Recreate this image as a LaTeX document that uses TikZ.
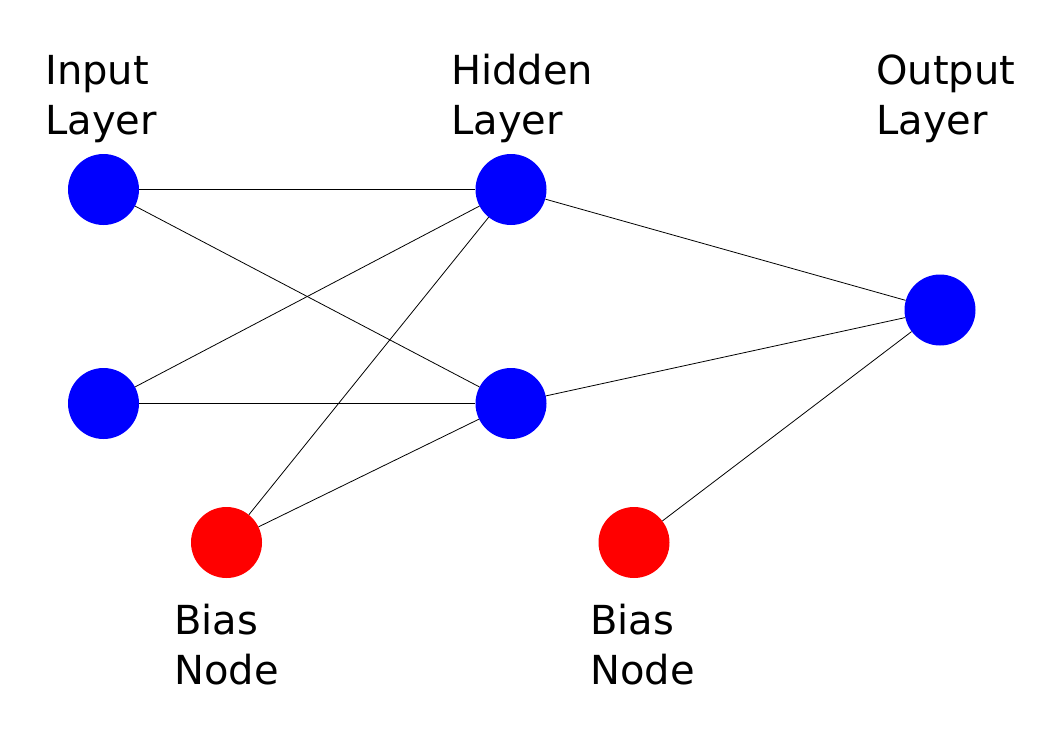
\documentclass[tikz,border=0pt]{standalone}
\usepackage{fontspec}
\setmainfont{DejaVu Sans}
\begin{document}
\begin{tikzpicture}[x=1pt,y=-1pt,
  neuron/.style={circle,fill=blue,minimum size=71pt,inner sep=0pt},
  bias/.style={circle,fill=red,minimum size=71pt,inner sep=0pt},
  lab/.style={anchor=base west,align=left,inner sep=0pt,font=\fontsize{40}{50}\selectfont},
  conn/.style={draw=black,line width=0.8pt}]
\useasboundingbox (0,0) rectangle (1053,745);
\node[neuron] (i1) at (103.5,189.5) {};
\node[neuron] (i2) at (103.5,403.5) {};
\node[bias] (b1) at (226.5,542.5) {};
\node[neuron] (h1) at (511,189.5) {};
\node[neuron] (h2) at (511,403.5) {};
\node[neuron] (o) at (940,310) {};
\node[bias] (b2) at (634,542.5) {};
\draw[conn] (i1) -- (h1);
\draw[conn] (i1) -- (h2);
\draw[conn] (i2) -- (h1);
\draw[conn] (i2) -- (h2);
\draw[conn] (b1) -- (h1);
\draw[conn] (b1) -- (h2);
\draw[conn] (h1) -- (o);
\draw[conn] (h2) -- (o);
\draw[conn] (b2) -- (o);
\node[lab] (t1) at (45,134) {Input\\Layer};
\node[lab] (t2) at (451,134) {Hidden\\Layer};
\node[lab] (t3) at (876,134) {Output\\Layer};
\node[lab] (t4) at (174,684) {Bias\\Node};
\node[lab] (t5) at (590,684) {Bias\\Node};
\end{tikzpicture}
\end{document}
